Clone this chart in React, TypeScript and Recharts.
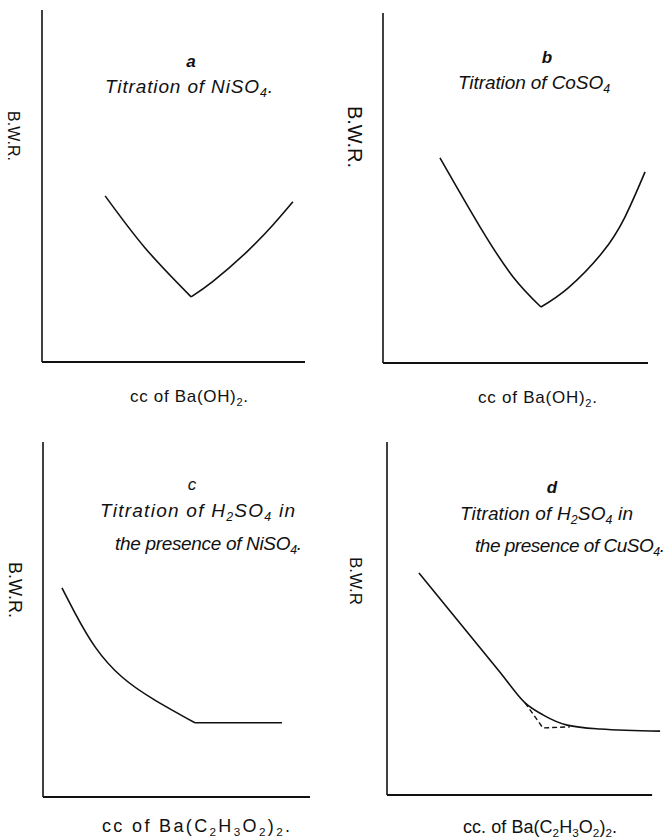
import { LineChart, Line, XAxis, YAxis, ReferenceLine } from "recharts";

// curve points for each titration, x = cc added, y = B.W.R. (arbitrary units, 0-100)
const niLeft = [
  { x: 24, y: 47.2 },
  { x: 39.2, y: 32.4 },
  { x: 56.7, y: 18.5 },
];
const niRight = [
  { x: 56.7, y: 18.5 },
  { x: 65, y: 22.9 },
  { x: 77.9, y: 31.3 },
  { x: 87.8, y: 38.9 },
  { x: 95.4, y: 45.5 },
];

const coLeft = [
  { x: 21.5, y: 58.6 },
  { x: 36.6, y: 38.9 },
  { x: 49.1, y: 24.6 },
  { x: 59.6, y: 16 },
];
const coRight = [
  { x: 59.6, y: 16 },
  { x: 69.8, y: 21.4 },
  { x: 82.6, y: 31.4 },
  { x: 91.3, y: 41.7 },
  { x: 98.9, y: 54.6 },
];

const h2NiCurve = [
  { x: 7.1, y: 58.9 },
  { x: 12, y: 51.8 },
  { x: 19.5, y: 42.3 },
  { x: 29.6, y: 33.8 },
  { x: 41.9, y: 27.3 },
  { x: 56.9, y: 20.9 },
];
const h2NiFlat = [
  { x: 56.9, y: 20.9 },
  { x: 89.5, y: 20.9 },
];

const h2CuSolid = [
  { x: 11.6, y: 62.9 },
  { x: 41.1, y: 34.8 },
  { x: 50.2, y: 26.1 },
  { x: 56.7, y: 22.7 },
  { x: 65.5, y: 19.8 },
  { x: 77.5, y: 18.7 },
  { x: 99.3, y: 18.1 },
];
// extrapolated end point of the titration
const h2CuDashed = [
  { x: 50.2, y: 26.1 },
  { x: 56.7, y: 19 },
  { x: 66.5, y: 19.3 },
];

type Pt = { x: number; y: number };
type Series = { data: Pt[]; type: "monotone" | "natural" | "linear"; dashed?: boolean };

interface PanelProps {
  left: number;
  top: number;
  width: number;
  height: number;
  xMax?: number;
  axisEnd?: number;
  series: Series[];
}

const PAD = 6;
const INK = "#111";

const Panel = ({ left, top, width, height, xMax = 100, axisEnd = 100, series }: PanelProps) => (
  <div style={{ position: "absolute", left: left - PAD, top: top - PAD }}>
    <LineChart
      width={width + PAD * 2}
      height={height + PAD * 2}
      margin={{ top: PAD, right: PAD, bottom: PAD, left: PAD }}
    >
      <XAxis type="number" dataKey="x" domain={[0, xMax]} hide />
      <YAxis type="number" domain={[0, 100]} hide />
      <ReferenceLine
        segment={[
          { x: 0, y: 0 },
          { x: axisEnd, y: 0 },
        ]}
        stroke={INK}
        strokeWidth={2}
        ifOverflow="visible"
      />
      <ReferenceLine
        segment={[
          { x: 0, y: 0 },
          { x: 0, y: 100 },
        ]}
        stroke={INK}
        strokeWidth={1.6}
        ifOverflow="visible"
      />
      {series.map((s, i) => (
        <Line
          key={i}
          data={s.data}
          dataKey="y"
          type={s.type}
          stroke={INK}
          strokeWidth={s.dashed ? 1.4 : 1.6}
          strokeDasharray={s.dashed ? "5 3" : undefined}
          dot={false}
          activeDot={false}
          isAnimationActive={false}
        />
      ))}
    </LineChart>
  </div>
);

// text runs: plain strings, or [string] for a subscript
type Run = string | [string];

const Rich = ({ runs, ...rest }: { runs: Run[] } & React.SVGProps<SVGTextElement>) => {
  let low = false;
  return (
    <text {...rest}>
      {runs.map((r, i) => {
        const isSub = Array.isArray(r);
        const dy = isSub && !low ? 4 : !isSub && low ? -4 : 0;
        low = isSub;
        return (
          <tspan key={i} dy={dy || undefined} fontSize={isSub ? "0.65em" : undefined}>
            {isSub ? r[0] : r}
          </tspan>
        );
      })}
    </text>
  );
};

const hand = { fontFamily: "Liberation Sans, DejaVu Sans, sans-serif", fill: INK };

const Labels = () => (
  <svg
    width={671}
    height={839}
    style={{ position: "absolute", left: 0, top: 0, pointerEvents: "none" }}
  >
    <g {...hand} fontStyle="italic">
      <text x={191} y={67} fontSize={17} fontWeight="bold" textAnchor="middle">a</text>
      <Rich x={105} y={93} fontSize={19} textLength={168} runs={["Titration of NiSO", ["4"], "."]} />

      <text x={547} y={63} fontSize={17} fontWeight="bold" textAnchor="middle">b</text>
      <Rich x={458} y={89} fontSize={19} textLength={152} runs={["Titration of CoSO", ["4"]]} />

      <text x={192} y={490} fontSize={17} textAnchor="middle">c</text>
      <Rich x={100} y={517} fontSize={19} textLength={195} runs={["Titration of H", ["2"], "SO", ["4"], " in"]} />
      <Rich x={115} y={550} fontSize={19} textLength={187} runs={["the presence of NiSO", ["4"], "."]} />

      <text x={552} y={493} fontSize={17} fontWeight="bold" textAnchor="middle">d</text>
      <Rich x={460} y={520} fontSize={19} textLength={173} runs={["Titration of H", ["2"], "SO", ["4"], " in"]} />
      <Rich x={475} y={552} fontSize={19} textLength={190} runs={["the presence of CuSO", ["4"], "."]} />
    </g>

    <g {...hand}>
      <text x={13} y={136} fontSize={16} textAnchor="middle" dominantBaseline="central" transform="rotate(90 13 136)">
        B.W.R.
      </text>
      <text x={355} y={137} fontSize={20} textAnchor="middle" dominantBaseline="central" transform="rotate(90 355 137)">
        B.W.R.
      </text>
      <text x={15} y={590} fontSize={18} textAnchor="middle" dominantBaseline="central" transform="rotate(90 15 590)">
        B.W.R.
      </text>
      <text x={355} y={581} fontSize={17} textAnchor="middle" dominantBaseline="central" transform="rotate(90 355 581)">
        B.W.R
      </text>

      <Rich x={130} y={402} fontSize={17} textLength={118} runs={["cc of Ba(OH)", ["2"], "."]} />
      <Rich x={478} y={403} fontSize={17} textLength={119} runs={["cc of Ba(OH)", ["2"], "."]} />
      <Rich
        x={102}
        y={832}
        fontSize={18}
        textLength={188}
        runs={["cc of Ba(C", ["2"], "H", ["3"], "O", ["2"], ")", ["2"], "."]}
      />
      <Rich
        x={463}
        y={833}
        fontSize={18}
        textLength={154}
        runs={["cc. of Ba(C", ["2"], "H", ["3"], "O", ["2"], ")", ["2"], "."]}
      />
    </g>
  </svg>
);

export default function App() {
  return (
    <div style={{ position: "absolute", left: 0, top: 0, width: 671, height: 839, background: "#fff" }}>
      <Panel
        left={42}
        top={10}
        width={263}
        height={352}
        series={[
          { data: niLeft, type: "natural" },
          { data: niRight, type: "natural" },
        ]}
      />
      <Panel
        left={383}
        top={13}
        width={265}
        height={350}
        series={[
          { data: coLeft, type: "natural" },
          { data: coRight, type: "natural" },
        ]}
      />
      <Panel
        left={43}
        top={442}
        width={267}
        height={355}
        series={[
          { data: h2NiCurve, type: "natural" },
          { data: h2NiFlat, type: "linear" },
        ]}
      />
      <Panel
        left={387}
        top={442}
        width={275}
        height={353}
        axisEnd={96.4}
        series={[
          { data: h2CuSolid, type: "monotone" },
          { data: h2CuDashed, type: "linear", dashed: true },
        ]}
      />
      <Labels />
    </div>
  );
}
